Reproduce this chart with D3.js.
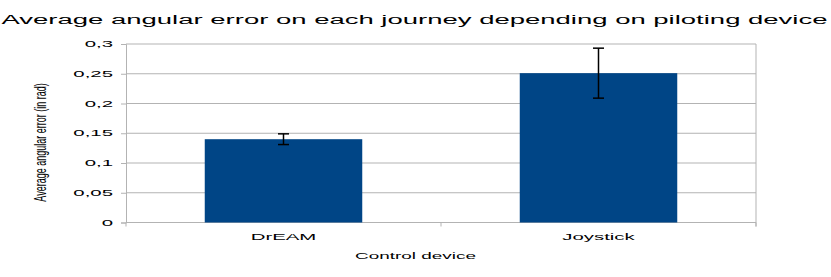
<!DOCTYPE html>
<html>
<head>
<meta charset="utf-8">
<script src="https://cdn.jsdelivr.net/npm/d3@7"></script>
<style>
  body { margin: 0; background: #fff; }
  text { font-family: "Liberation Sans", Arial, sans-serif; fill: #000; }
</style>
</head>
<body>
<div id="chart"></div>
<script>
const categories = ["DrEAM", "Joystick"];
const values = [0.14, 0.251];
const errors = [0.009, 0.042];
const yTicks = [0, 0.05, 0.1, 0.15, 0.2, 0.25, 0.3];
const title = "Average angular error on each journey depending on piloting device";
const xTitle = "Control device";
const yTitle = "Average angular error (in rad)";

const width = 831, height = 277;
const margin = { left: 126, right: 75, top: 44, bottom: 54.5 };
const sx = 2.4; // the reference text is stretched horizontally
const grid = "#b3b3b3";

const svg = d3.select("#chart").append("svg")
    .attr("width", width)
    .attr("height", height);

const x = d3.scaleBand()
    .domain(categories)
    .range([margin.left, width - margin.right])
    .paddingInner(0.5)
    .paddingOuter(0.25);
const y = d3.scaleLinear()
    .domain([0, 0.3])
    .range([height - margin.bottom, margin.top]);

// stretch a text node horizontally around its anchor
function stretch(sel, k) {
    sel.each(function() {
        const t = d3.select(this);
        const x0 = +(t.attr("x") || 0);
        t.attr("x", x0 / k).attr("transform", "scale(" + k + ",1)");
    });
}

// gridlines
svg.append("g")
    .selectAll("line")
    .data(yTicks)
    .enter().append("line")
    .attr("x1", margin.left)
    .attr("x2", width - margin.right)
    .attr("y1", d => y(d))
    .attr("y2", d => y(d))
    .attr("stroke", grid)
    .attr("stroke-width", 1);

// right border
svg.append("line")
    .attr("x1", width - margin.right).attr("x2", width - margin.right)
    .attr("y1", y(0.3)).attr("y2", y(0) + 4)
    .attr("stroke", grid);

// category boundary ticks under the axis
const bounds = d3.range(categories.length + 1).map(i => margin.left + i * (width - margin.left - margin.right) / categories.length);
svg.append("g")
    .selectAll("line")
    .data(bounds)
    .enter().append("line")
    .attr("x1", d => d).attr("x2", d => d)
    .attr("y1", y(0)).attr("y2", y(0) + 4)
    .attr("stroke", grid);

// y axis
const yAxis = svg.append("g")
    .attr("transform", "translate(" + margin.left + ",0)")
    .call(d3.axisLeft(y)
        .tickValues(yTicks)
        .tickSize(5)
        .tickPadding(8)
        .tickFormat(d => String(d).replace(".", ",")));
yAxis.select(".domain").attr("stroke", grid);
yAxis.selectAll(".tick line").attr("stroke", grid);
yAxis.selectAll(".tick text")
    .attr("font-size", 8.5)
    .attr("fill", "#000")
    .attr("font-family", "Liberation Sans, Arial, sans-serif")
    .call(stretch, sx);

// bars
svg.append("g")
    .selectAll("rect")
    .data(categories)
    .enter().append("rect")
    .attr("x", d => x(d))
    .attr("width", x.bandwidth())
    .attr("y", (d, i) => y(values[i]))
    .attr("height", (d, i) => y(0) - y(values[i]))
    .attr("fill", "#004586");

// error bars
const eb = svg.append("g")
    .selectAll("g")
    .data(categories)
    .enter().append("g")
    .attr("stroke", "#000")
    .attr("stroke-width", 1.5);
eb.append("line")
    .attr("x1", d => x(d) + x.bandwidth() / 2)
    .attr("x2", d => x(d) + x.bandwidth() / 2)
    .attr("y1", (d, i) => y(values[i] + errors[i]))
    .attr("y2", (d, i) => y(values[i] - errors[i]));
[1, -1].forEach(s => {
    eb.append("line")
        .attr("x1", d => x(d) + x.bandwidth() / 2 - 5.5)
        .attr("x2", d => x(d) + x.bandwidth() / 2 + 5.5)
        .attr("y1", (d, i) => y(values[i] + s * errors[i]))
        .attr("y2", (d, i) => y(values[i] + s * errors[i]));
});

// category labels
svg.append("g")
    .selectAll("text")
    .data(categories)
    .enter().append("text")
    .attr("x", d => x(d) + x.bandwidth() / 2)
    .attr("y", 240)
    .attr("text-anchor", "middle")
    .attr("font-size", 8.5)
    .text(d => d)
    .call(stretch, sx);

// axis titles
svg.append("text")
    .attr("x", 415.5)
    .attr("y", 259.5)
    .attr("text-anchor", "middle")
    .attr("font-size", 8.3)
    .text(xTitle)
    .call(stretch, 2.28);

svg.append("text")
    .attr("transform", "translate(46,142.5) scale(1.8,1) rotate(-90)")
    .attr("text-anchor", "middle")
    .attr("font-size", 9)
    .text(yTitle);

// chart title
svg.append("text")
    .attr("x", 414.5)
    .attr("y", 24.3)
    .attr("text-anchor", "middle")
    .attr("font-size", 12)
    .attr("textLength", 826)
    .attr("lengthAdjust", "spacingAndGlyphs")
    .text(title);
</script>
</body>
</html>
